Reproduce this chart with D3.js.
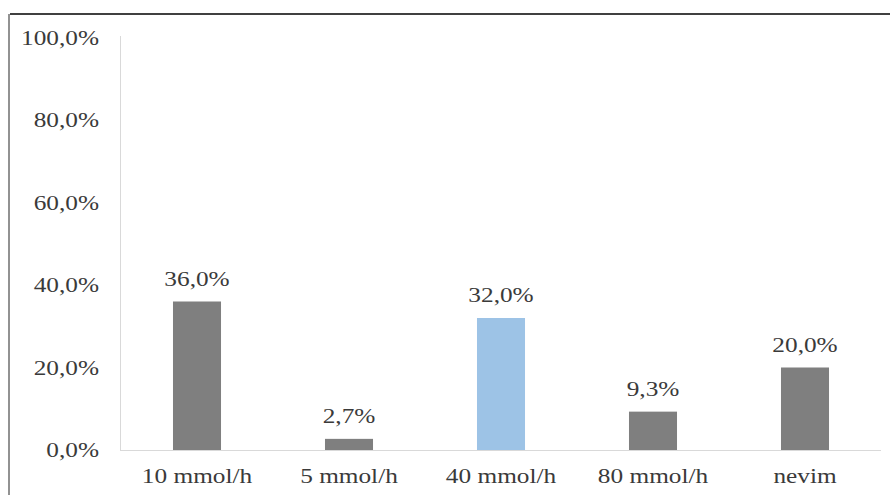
<!DOCTYPE html>
<html><head><meta charset="utf-8">
<script src="https://cdn.jsdelivr.net/npm/d3@7"></script>
<style>body{margin:0;background:#fff}svg{display:block}
text{font-family:"Liberation Serif","Times New Roman",serif}</style>
</head><body>
<svg id="c" width="890" height="495"></svg>
<script>
const categories = ["10 mmol/h", "5 mmol/h", "40 mmol/h", "80 mmol/h", "nevim"];
const values = [36.0, 2.7, 32.0, 9.3, 20.0];
const barColors = ["#7f7f7f", "#7f7f7f", "#9dc3e6", "#7f7f7f", "#7f7f7f"];
const yTicks = [0, 20, 40, 60, 80, 100];

const svg = d3.select("#c");
const fmt = v => v.toFixed(1).replace(".", ",") + "%";
const sx = 1.15, fs = 22, col = "#3a3a3a";
const place = (px, py) => `translate(${px},${py}) scale(${sx},1)`;

svg.append("line").attr("x1", 10).attr("x2", 890).attr("y1", 14).attr("y2", 14).attr("stroke", "#000").attr("stroke-width", 1.5);
svg.append("line").attr("x1", 9).attr("x2", 9).attr("y1", 14).attr("y2", 495).attr("stroke", "#6e6e6e").attr("stroke-width", 1.5);

const x = d3.scaleBand().domain(categories).range([121, 881]).paddingInner(0.684).paddingOuter(0.342);
const y = d3.scaleLinear().domain([0, 100]).range([450, 37.5]);

svg.append("line").attr("x1", 120.5).attr("x2", 120.5).attr("y1", 36).attr("y2", 450).attr("stroke", "#d9d9d9").attr("stroke-width", 1);
svg.append("line").attr("x1", 120).attr("x2", 881).attr("y1", 450.5).attr("y2", 450.5).attr("stroke", "#d9d9d9").attr("stroke-width", 1);

svg.append("g").selectAll("text").data(yTicks).join("text")
  .attr("transform", d => place(99, y(d) + 7))
  .attr("text-anchor", "end").attr("font-size", fs).attr("fill", col)
  .text(d => fmt(d));

svg.append("g").selectAll("rect").data(values).join("rect")
  .attr("x", (d, i) => x(categories[i])).attr("width", x.bandwidth())
  .attr("y", d => y(d)).attr("height", d => y(0) - y(d))
  .attr("fill", (d, i) => barColors[i]);

svg.append("g").selectAll("text").data(values).join("text")
  .attr("transform", (d, i) => place(x(categories[i]) + x.bandwidth() / 2, y(d) - 16))
  .attr("text-anchor", "middle").attr("font-size", fs).attr("fill", col)
  .text(d => fmt(d));

svg.append("g").selectAll("text").data(categories).join("text")
  .attr("transform", d => place(x(d) + x.bandwidth() / 2, 483))
  .attr("text-anchor", "middle").attr("font-size", fs).attr("fill", col)
  .text(d => d);
</script>
</body></html>
